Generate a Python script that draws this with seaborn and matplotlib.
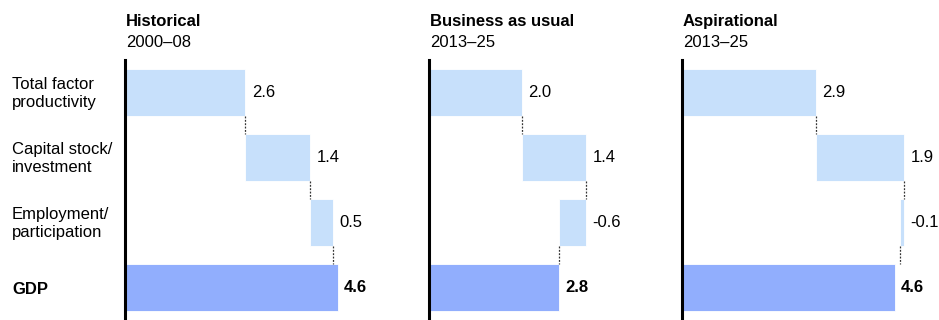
import matplotlib
matplotlib.use("Agg")
import matplotlib.pyplot as plt
import seaborn as sns
import numpy as np
import pandas as pd

sns.set_theme(style="white")
plt.rcParams["font.family"] = ["Liberation Sans", "DejaVu Sans"]

# Growth decomposition, % per year
categories = ["Total factor\nproductivity", "Capital stock/\ninvestment",
              "Employment/\nparticipation", "GDP"]
scenarios = ["Historical", "Business as usual", "Aspirational"]
periods = ["2000–08", "2013–25", "2013–25"]
contributions = {
    "Historical": [2.6, 1.4, 0.5],
    "Business as usual": [2.0, 1.4, -0.6],
    "Aspirational": [2.9, 1.9, -0.1],
}
gdp = {"Historical": 4.6, "Business as usual": 2.8, "Aspirational": 4.6}
labels_text = {
    "Historical": ["2.6", "1.4", "0.5", "4.6"],
    "Business as usual": ["2.0", "1.4", "-0.6", "2.8"],
    "Aspirational": ["2.9", "1.9", "-0.1", "4.6"],
}

LIGHT = "#c7e0fb"
DARK = "#91aefd"
FS = 12

W, H = 939, 320
fig = plt.figure(figsize=(W / 100, H / 100), dpi=100)

panel_left_px = [125.0, 429.0, 682.0]
px_per_unit = 46.3
xmax = 5.5
ax_top_px, ax_bottom_px = 60, 320

for i, (name, period, lpx) in enumerate(zip(scenarios, periods, panel_left_px)):
    ax = fig.add_axes([lpx / W, 1 - ax_bottom_px / H,
                       xmax * px_per_unit / W, (ax_bottom_px - ax_top_px) / H])
    vals = contributions[name]
    starts = list(np.concatenate([[0.0], np.cumsum(vals)[:-1]])) + [0.0]
    widths = vals + [gdp[name]]
    df = pd.DataFrame({"category": categories, "width": widths, "start": starts})

    sns.barplot(data=df, x="width", y="category", order=categories,
                left=df["start"].values, width=0.71, color=LIGHT,
                edgecolor="white", linewidth=0.6, ax=ax, errorbar=None)
    for j, patch in enumerate(ax.patches):
        patch.set_facecolor(DARK if j == len(categories) - 1 else LIGHT)

    # dotted connectors between consecutive bars
    ends = np.cumsum(vals)
    half = 0.71 / 2
    for j in range(len(vals)):
        xc = ends[j]
        ax.plot([xc, xc], [j + half, j + 1 - half], color="#333333",
                lw=0.9, ls=(0, (1.5, 1.2)), zorder=3)

    # value labels
    for j, (s, w) in enumerate(zip(starts, widths)):
        right = max(s, s + w)
        bold = j == len(categories) - 1
        ax.annotate(labels_text[name][j], (right, j), xytext=(4.5, 0),
                    textcoords="offset points", va="center", ha="left",
                    fontsize=FS, color="black",
                    fontweight="bold" if bold else "normal",
                    annotation_clip=False)

    ax.set_xlim(0, xmax)
    ax.set_ylim(3.5, -0.5)
    ax.set_xlabel("")
    ax.set_ylabel("")
    ax.set_xticks([])
    ax.set_yticks([])
    for side in ["top", "right", "bottom"]:
        ax.spines[side].set_visible(False)
    ax.spines["left"].set_color("black")
    ax.spines["left"].set_linewidth(2.2)
    ax.patch.set_visible(False)

    fig.text((lpx + 1) / W, 1 - 26 / H, name, fontsize=FS, fontweight="bold",
             ha="left", va="baseline", color="black")
    fig.text((lpx + 1) / W, 1 - 47 / H, period, fontsize=FS,
             ha="left", va="baseline", color="black")

# row labels on the left
row_centres_px = [93.5, 158.5, 223.5, 289.0]
for cat, ypx in zip(categories, row_centres_px):
    fig.text(12 / W, 1 - ypx / H, cat, fontsize=FS, ha="left", va="center",
             linespacing=1.2, color="black",
             fontweight="bold" if cat == "GDP" else "normal")

fig.savefig("out.png", dpi=100)
